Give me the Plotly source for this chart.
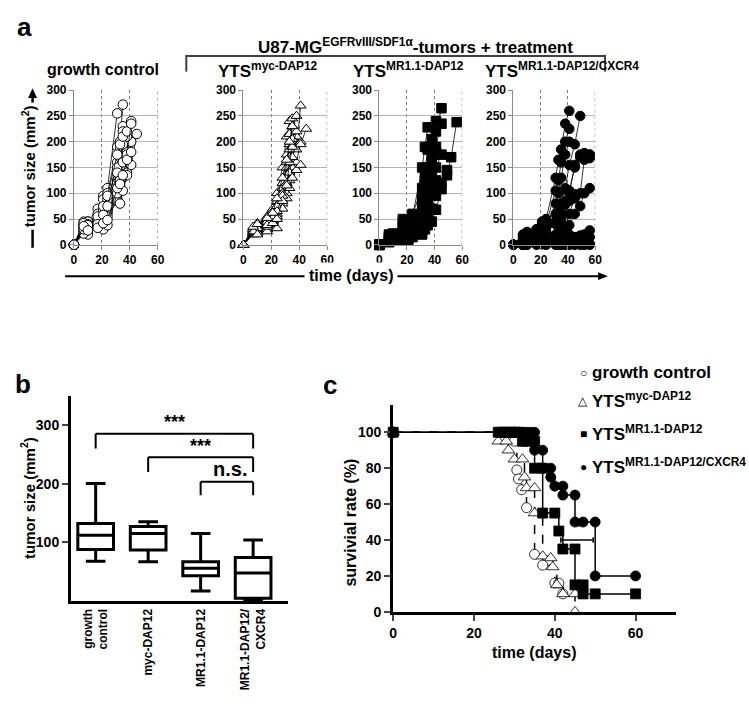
import plotly.graph_objects as go

W, H = 749, 704
FONT = "Liberation Sans, Arial, sans-serif"

# ---- panel a: tumour size per mouse (mm^2) ----
GC_DAYS = [0, 7, 10, 17, 21, 24, 31, 33, 35, 38, 41, 45]
GC_MICE = [
    [0, 40, 45, 70, 95, 110, 255],
    [0, 45, 40, 60, 88, 100, 190, 200, 272],
    [0, 30, 25, 45, 62, 80, 160, 185, 230],
    [0, 35, 30, 50, 55, 70, 125, 170, 220],
    [0, 25, 20, 38, 45, 62, 120, 150, 190, 205],
    [0, 38, 45, 35, 50, 65, 90, 135, 155, 180, 240],
    [0, 28, 35, 45, 40, 55, 85, 115, 130, 140, 155, 215],
    [0, 42, 33, 40, 30, 38, 100, 80, 105, 135, 200],
    [0, 22, 30, 48, 68, 88, 150, 170, 195, 210],
    [0, 35, 40, 55, 75, 95, 175, 195, 210, 220],
    [0, 30, 38, 40, 58, 75, 140, 125, 160, 175, 235],
    [0, 36, 28, 33, 42, 48, 110, 118, 135, 165, 180],
]

MYC_DAYS = [0, 7, 10, 17, 21, 24, 28, 31, 33, 35, 38, 41, 45]
MYC_MICE = [
    [0, 30, 42, 55, 70, 100, 150, 210, 240],
    [0, 25, 35, 48, 65, 85, 120, 175, 215, 245],
    [0, 20, 22, 30, 45, 60, 90, 150, 195, 230, 250],
    [0, 33, 28, 40, 55, 70, 110, 130, 170, 200, 185, 270],
    [0, 22, 25, 26, 40, 32, 80, 100, 125, 150, 160, 200],
    [0, 28, 38, 50, 60, 75, 100, 120, 140, 170, 210, 195, 225],
    [0, 24, 30, 35, 48, 55, 70, 90, 110, 130, 145, 155],
    [0, 30, 32, 45, 52, 65, 95, 160, 185, 205],
    [0, 26, 20, 38, 42, 50, 85, 115, 160, 190, 220],
    [0, 35, 40, 52, 62, 90, 130, 165, 200, 230],
]

MR_DAYS = [0, 7, 10, 17, 21, 24, 31, 33, 35, 38, 41, 45, 49, 52, 56]
MR_MICE = [
    [0, 10, 15, 45, 40, 55, 150, 190, 228],
    [0, 20, 18, 35, 25, 45, 90, 140, 185, 205, 240],
    [0, 15, 12, 50, 45, 60, 110, 125, 150, 170, 220, 265],
    [0, 8, 20, 25, 30, 35, 75, 95, 120, 160, 190, 235],
    [0, 5, 10, 15, 20, 30, 55, 80, 100, 130, 150, 175],
    [0, 12, 15, 20, 10, 15, 20, 30, 38, 45, 68, 108, 135, 170, 238],
    [0, 18, 10, 10, 12, 20, 60, 70, 85, 110, 125],
    [0, 6, 8, 30, 35, 40, 85, 100, 115, 145, 180],
    [0, 14, 22, 12, 20, 25, 35, 45, 55, 70, 95, 120, 145],
]

CX_DAYS = [0, 7, 10, 17, 21, 24, 31, 33, 35, 38, 41, 45, 49, 52, 56]
CX_MICE = [
    [0, 20, 25, 30, 45, 50, 130, 165, 185, 235, 260],
    [0, 15, 22, 25, 35, 40, 105, 125, 160, 200, 225],
    [0, 10, 15, 20, 30, 35, 80, 100, 130, 175, 200],
    [0, 5, 10, 15, 20, 25, 40, 60, 80, 110, 155, 195, 250],
    [0, 8, 12, 18, 10, 15, 20, 35, 50, 80, 100, 155, 175, 175, 175],
    [0, 5, 8, 10, 12, 15, 18, 20, 25, 35, 60, 90, 100, 165, 175],
    [0, 3, 5, 8, 10, 12, 15, 15, 18, 20, 38, 60, 75, 100, 110],
    [0, 2, 4, 5, 5, 8, 10, 10, 12, 15, 20, 15, 18, 20, 28],
    [0, 0, 2, 3, 5, 5, 5, 4, 5, 6, 8, 8, 10, 12, 15],
    [0, 0, 0, 2, 2, 3, 2, 3, 2, 3, 4, 5, 3, 2, 2],
    [0, 0, 1, 0, 1, 0, 0, 0, 0, 0, 0, 0, 0, 0, 0],
    [0, 10, 20, 30, 40, 48, 60, 62, 80, 85, 105, 150, 170, 178, 168],
    [0, 5, 8, 25, 30, 35, 45, 55, 62, 78, 85, 98],
]

# ---- panel b: tumour size box plot ----
B_LABELS = ["growth<br>control", "myc-DAP12", "MR1.1-DAP12", "MR1.1-DAP12/<br>CXCR4"]
B_LOW = [68, 67, 17, 2]
B_Q1 = [88, 87, 43, 5]
B_MED = [112, 115, 56, 48]
B_Q3 = [132, 127, 67, 74]
B_HIGH = [200, 135, 115, 104]

# ---- panel c: survival (Kaplan-Meier) ----
GC_T = [0, 30, 30.6, 31, 31.8, 33, 35, 37, 40, 41, 42]
GC_S = [100, 95, 79, 74, 68, 58, 32, 26, 16, 16, 10]
MY_T = [0, 26, 28, 28.5, 30, 32, 32.5, 33, 35, 35, 37, 39, 39.5, 40.5, 42, 45, 45]
MY_S = [100, 95, 95, 90, 85, 85, 75, 69, 69, 55, 31, 30, 25, 15, 10, 10, 0]
MR_T = [0, 26, 27, 28, 29, 30, 31, 32, 33, 35, 35, 37, 37, 40, 41, 42, 45, 45, 47, 47, 50, 60]
MR_S = [100, 100, 100, 100, 100, 100, 100, 95, 95, 95, 80, 80, 55, 55, 45, 35, 35, 15, 15, 10, 10, 10]
CX_T = [0, 30, 31, 32, 33, 34, 35, 35, 37, 37, 39, 39, 40, 42, 42, 45, 45, 47, 50, 50, 60]
CX_S = [100, 100, 100, 100, 100, 100, 100, 90, 90, 80, 80, 75, 70, 70, 65, 65, 50, 50, 50, 20, 20]


def px(x):
    return x / W


def py(y):
    return 1 - y / H


fig = go.Figure()
shapes = []

# panel a subplots
A_GROUPS = [
    (GC_DAYS, GC_MICE, "circle", "white", 71, 156),
    (MYC_DAYS, MYC_MICE, "triangle-up", "white", 243, 328),
    (MR_DAYS, MR_MICE, "square", "black", 381, 465),
    (CX_DAYS, CX_MICE, "circle", "black", 517, 600),
]
for i, (days, mice, sym, fill, x0, x1) in enumerate(A_GROUPS, start=1):
    xa = "x" if i == 1 else f"x{i}"
    ya = "y" if i == 1 else f"y{i}"
    # dotted boundary at day 60 (plotly skips the gridline on the range edge)
    shapes.append(dict(type="line", xref=xa, yref=ya, x0=60, x1=60, y0=0, y1=300, layer="below",
                       line=dict(color="#7a7a7a", width=1, dash="dot")))
    for row in mice:
        fig.add_trace(go.Scatter(
            x=days[:len(row)], y=row, xaxis=xa, yaxis=ya, mode="lines+markers",
            line=dict(color="black", width=0.8), cliponaxis=False,
            marker=dict(symbol=sym, size=9.5, color=fill, line=dict(color="black", width=1)),
            showlegend=False, hoverinfo="skip"))
    key = "" if i == 1 else str(i)
    fig.update_layout(**{
        f"xaxis{key}": dict(
            domain=[px(x0), px(x1)], anchor=ya, range=[0, 60], tickvals=[0, 20, 40, 60],
            showgrid=True, gridcolor="#7a7a7a", griddash="dot", gridwidth=1,
            showline=True, linecolor="#8a8a8a", linewidth=1, zeroline=False,
            ticks="outside", ticklen=4, tickcolor="#8a8a8a",
            tickfont=dict(size=12, color="black", weight="bold")),
        f"yaxis{key}": dict(
            domain=[py(243), py(85)], anchor=xa, range=[0, 300], dtick=50,
            showgrid=True, gridcolor="#b4b4b4", gridwidth=1,
            showline=True, linecolor="#8a8a8a", linewidth=1, zeroline=False,
            ticks="outside", ticklen=4, tickcolor="#8a8a8a",
            tickfont=dict(size=12, color="black", weight="bold")),
    })

# panel b
fig.add_trace(go.Box(
    x=list(range(len(B_LABELS))), q1=B_Q1, median=B_MED, q3=B_Q3,
    lowerfence=B_LOW, upperfence=B_HIGH, xaxis="x5", yaxis="y5",
    width=0.68, whiskerwidth=0.55, fillcolor="white", boxpoints=False,
    line=dict(color="black", width=3), showlegend=False, hoverinfo="skip"))
fig.update_layout(
    xaxis5=dict(domain=[px(68), px(288)], anchor="y5", range=[-0.47, 3.66],
                tickvals=list(range(len(B_LABELS))), ticktext=B_LABELS, tickangle=-90,
                showline=True, linecolor="black", linewidth=3, showgrid=False, zeroline=False,
                ticks="", tickfont=dict(size=12, color="black", weight="bold")),
    yaxis5=dict(domain=[py(607), py(397)], anchor="x5", range=[0, 350],
                tickvals=[100, 200, 300], showline=True, linecolor="black", linewidth=3,
                showgrid=False, zeroline=False, ticks="outside", ticklen=6, tickwidth=2,
                tickfont=dict(size=14, color="black", weight="bold")),
)

# panel c
C_SERIES = [
    (GC_T, GC_S, "circle", "white", "dash", 10),
    (MY_T, MY_S, "triangle-up", "white", "dash", 11),
    (CX_T, CX_S, "circle", "black", "solid", 10),
    (MR_T, MR_S, "square", "black", "solid", 10),
]
for t, s, sym, fill, dash, size in C_SERIES:
    fig.add_trace(go.Scatter(
        x=t, y=s, xaxis="x6", yaxis="y6", mode="lines+markers", line_shape="hv",
        line=dict(color="black", width=1.5, dash=dash), cliponaxis=False,
        marker=dict(symbol=sym, size=size, color=fill, line=dict(color="black", width=0.8)),
        showlegend=False, hoverinfo="skip"))
fig.update_layout(
    xaxis6=dict(domain=[px(395), px(682)], anchor="y6", range=[0, 70], tickvals=[0, 20, 40, 60],
                showline=True, linecolor="black", linewidth=3, showgrid=False, zeroline=False,
                ticks="outside", ticklen=6, tickwidth=2,
                tickfont=dict(size=14, color="black", weight="bold")),
    yaxis6=dict(domain=[py(618), py(407)], anchor="x6", range=[0, 115],
                tickvals=[0, 20, 40, 60, 80, 100],
                showline=True, linecolor="black", linewidth=3, showgrid=False, zeroline=False,
                ticks="outside", ticklen=6, tickwidth=2,
                tickfont=dict(size=14, color="black", weight="bold")),
)

P = dict(xref="paper", yref="paper")


def seg(x0, y0, x1, y1, color="black", width=2):
    shapes.append(dict(type="line", x0=px(x0), y0=py(y0), x1=px(x1), y1=py(y1),
                       line=dict(color=color, width=width), **P))


def head(path_pts):
    d = "M " + " L ".join(f"{px(a)},{py(b)}" for a, b in path_pts) + " Z"
    shapes.append(dict(type="path", path=d, fillcolor="black", line=dict(width=0), **P))


# treatment bracket
seg(185, 50, 610, 50, "#404040", 2)
seg(185, 49, 185, 66, "#404040", 2)
seg(610, 49, 610, 66, "#404040", 2)
# y arrow (panel a)
seg(29, 246, 29, 92, "black", 2.5)
head([(24.5, 93), (33.5, 93), (29, 83)])
# time arrow
seg(62, 275, 604, 275, "black", 2)
head([(603, 271), (603, 279), (613, 275)])

# panel b significance brackets
for xa, xb, ytop, ylow in [(0, 3, 285, 260), (1, 3, 245, 220), (2, 3, 203, 180)]:
    for pts in [(xa, ytop, xb, ytop), (xa, ytop, xa, ylow), (xb, ytop, xb, ylow)]:
        shapes.append(dict(type="line", xref="x5", yref="y5", x0=pts[0], y0=pts[1],
                           x1=pts[2], y1=pts[3], line=dict(color="black", width=2)))
# panel c significance
for pts in [(41.5, 40, 49.5, 40), (41.5, 38.5, 41.5, 41.5), (49.5, 38.5, 49.5, 41.5)]:
    shapes.append(dict(type="line", xref="x6", yref="y6", x0=pts[0], y0=pts[1],
                       x1=pts[2], y1=pts[3], line=dict(color="black", width=1.5)))

ann = []


def text(x, y, s, size, xanchor="center", yanchor="middle", angle=0, bg=None, pad=1):
    a = dict(x=px(x), y=py(y), xref="paper", yref="paper", text=s, showarrow=False,
             xanchor=xanchor, yanchor=yanchor, textangle=angle, borderpad=pad,
             font=dict(family=FONT, size=size, color="black"))
    if bg:
        a["bgcolor"] = bg
    ann.append(a)


text(21, 20, "<b>a</b>", 26)
text(19, 385, "<b>b</b>", 26)
text(331, 386, "<b>c</b>", 26)
text(418, 40, "<b>U87-MG<sup>EGFRvIII/SDF1α</sup>-tumors + treatment</b>", 17)
text(42, 64, "<b>growth control</b>", 16, xanchor="left")
text(215, 64, "<b>YTS<sup>myc-DAP12</sup></b>", 17, xanchor="left")
text(352, 64, "<b>YTS<sup>MR1.1-DAP12</sup></b>", 17, xanchor="left")
text(486, 64, "<b>YTS<sup>MR1.1-DAP12/CXCR4</sup></b>", 17, xanchor="left")
text(25, 163, "<b>tumor size (mm<sup>2</sup>)</b>", 15, angle=-90, bg="white", pad=2)
text(352, 274, "<b>time (days)</b>", 16, bg="white", pad=4)
# panel b labels
text(24, 502, "<b>tumor size (mm<sup>2</sup>)</b>", 15, angle=-90)
ann.append(dict(x=1.5, y=284, xref="x5", yref="y5", text="<b>***</b>", showarrow=False,
                yanchor="bottom", font=dict(family=FONT, size=18, color="black")))
ann.append(dict(x=2, y=244, xref="x5", yref="y5", text="<b>***</b>", showarrow=False,
                yanchor="bottom", font=dict(family=FONT, size=18, color="black")))
ann.append(dict(x=2.55, y=203, xref="x5", yref="y5", text="<b>n.s.</b>", showarrow=False,
                yanchor="bottom", font=dict(family=FONT, size=20, color="black")))
# panel c labels
text(352, 527, "<b>survivial rate (%)</b>", 16, angle=-90)
text(538, 660, "<b>time (days)</b>", 16)
ann.append(dict(x=45.5, y=40.5, xref="x6", yref="y6", text="<b>*</b>", showarrow=False,
                yanchor="bottom", font=dict(family=FONT, size=18, color="black")))
LEG = [("○", "growth control", 373), ("△", "YTS<sup>myc-DAP12</sup>", 402),
       ("■", "YTS<sup>MR1.1-DAP12</sup>", 435), ("●", "YTS<sup>MR1.1-DAP12/CXCR4</sup>", 469)]
for glyph, label, y in LEG:
    text(588, y + 1, glyph, 12)
    text(595, y, f"<b>{label}</b>", 17, xanchor="left")

fig.update_layout(
    width=W, height=H, margin=dict(l=0, r=0, t=0, b=0),
    paper_bgcolor="white", plot_bgcolor="rgba(0,0,0,0)",
    font=dict(family=FONT, color="black"),
    shapes=shapes, annotations=ann, showlegend=False,
)

fig.write_html("out.html", config={"displayModeBar": False},
               post_script="document.body.style.margin='0';document.body.style.overflow='hidden';")
